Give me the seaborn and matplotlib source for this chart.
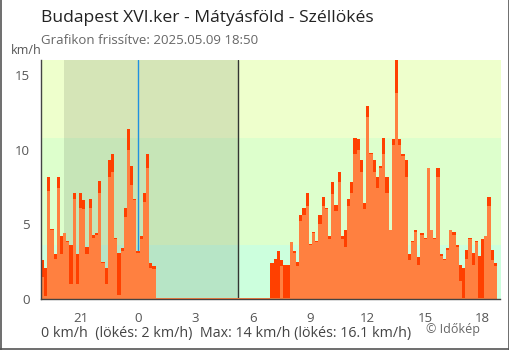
import numpy as np
import pandas as pd
import matplotlib
matplotlib.use("Agg")
import matplotlib.pyplot as plt
from matplotlib.lines import Line2D
import seaborn as sns

# ---------------- data ----------------
title = "Budapest XVI.ker - Mátyásföld - Széllökés"
subtitle = "Grafikon frissítve: 2025.05.09 18:50"
footer = "0 km/h  (lökés: 2 km/h)  Max: 14 km/h (lökés: 16.1 km/h)"
credit = "© Időkép"
unit = "km/h"

first_sample_hour = -5.0      # 19:00 previous day, hours relative to midnight
step_hours = 1 / 6            # 10-minute samples

wind_kmh = [
    1.5, 0.2, 7.2, 4.6, 2.7, 7.4, 3.0, 4.4, 3.8, 1.0, 6.7, 1.0,
    6.1, 6.0, 3.0, 6.1, 4.1, 4.3, 7.1, 2.4, 1.0, 8.2, 8.5, 4.0,
    0.3, 3.2, 5.5, 10.0, 7.6, 6.6, 3.1, 4.0, 6.5, 8.8, 2.1, 2.0,
    0.1, 0.1, 0.1, 0.1, 0.1, 0.1, 0.1, 0.1, 0.1, 0.1, 0.1, 0.1,
    0.1, 0.1, 0.1, 0.1, 0.1, 0.1, 0.1, 0.1, 0.1, 0.1, 0.1, 0.1,
    0.1, 0.1, 0.1, 0.1, 0.1, 0.1, 0.1, 0.1, 0.1, 0.1, 0.1, 0.1,
    0.1, 0.1, 0.1, 2.2, 0.1, 0.1, 3.8, 3.1, 2.2, 5.2, 5.6, 6.2,
    3.6, 4.4, 3.8, 5.0, 6.2, 6.0, 4.0, 7.0, 5.9, 7.8, 4.0, 3.5,
    6.2, 7.1, 9.7, 10.0, 8.5, 6.0, 12.2, 9.7, 8.5, 7.4, 8.8, 9.7,
    7.1, 4.6, 10.3, 13.8, 10.3, 9.6, 8.2, 2.6, 3.8, 4.5, 2.3, 4.3,
    4.0, 8.8, 4.6, 4.0, 8.2, 2.9, 2.6, 3.3, 4.6, 4.3, 3.5, 1.2,
    0.1, 2.7, 4.0, 2.3, 3.8, 0.1, 0.1, 4.2, 6.2, 2.6, 2.2,
]
gust_kmh = [
    2.6, 2.1, 8.2, 4.7, 3.0, 8.2, 4.2, 4.4, 3.9, 3.6, 7.1, 3.0,
    7.1, 6.6, 3.5, 6.7, 4.3, 4.4, 7.9, 2.5, 2.1, 9.3, 9.7, 4.1,
    3.1, 3.4, 6.1, 11.4, 8.9, 6.7, 3.2, 4.2, 7.1, 9.7, 2.4, 2.2,
    0.0, 0.0, 0.0, 0.0, 0.0, 0.0, 0.0, 0.0, 0.0, 0.0, 0.0, 0.0,
    0.0, 0.0, 0.0, 0.0, 0.0, 0.0, 0.0, 0.0, 0.0, 0.0, 0.0, 0.0,
    0.0, 0.0, 0.0, 0.0, 0.0, 0.0, 0.0, 0.0, 0.0, 0.0, 0.0, 0.0,
    2.4, 2.7, 3.2, 2.6, 2.3, 2.3, 3.8, 3.2, 2.5, 5.6, 6.1, 7.1,
    3.7, 4.5, 3.9, 5.6, 6.8, 6.1, 4.2, 7.8, 6.3, 8.5, 4.2, 4.6,
    6.7, 7.8, 10.8, 10.7, 9.3, 6.4, 12.9, 9.8, 9.3, 8.2, 8.9, 10.8,
    8.2, 4.6, 10.7, 16.1, 10.7, 9.7, 9.3, 3.0, 3.9, 4.6, 2.8, 4.4,
    4.1, 8.8, 4.6, 4.1, 8.8, 3.0, 2.7, 3.4, 4.6, 4.5, 3.6, 2.3,
    2.1, 3.3, 4.1, 3.1, 3.9, 2.9, 4.0, 4.2, 6.8, 3.3, 2.4,
]

x_ticks = [-3, 0, 3, 6, 9, 12, 15, 18]
x_tick_labels = ["21", "0", "3", "6", "9", "12", "15", "18"]
y_ticks = [0, 5, 10, 15]
x_range = (-5.07, 18.93)
y_range = (0, 16)
band_edges = [0, 3.6, 10.8, 16]
band_colors = ["#ccffdd", "#ddffcc", "#eeffcc"]
sunset_hour = -3.87
sunrise_hour = 5.22

# ---------------- figure ----------------
sns.set_theme(style="white")
plt.rcParams["font.family"] = ["Open Sans", "DejaVu Sans"]

W, H = 510, 350
fig = plt.figure(figsize=(W / 100, H / 100), dpi=100)
ax = fig.add_axes([41 / W, 51 / H, (500.5 - 41) / W, 239 / H])

n = len(wind_kmh)
hours = first_sample_hour + np.arange(n) * step_hours
df = pd.DataFrame({"hour": hours, "wind": wind_kmh, "gust": gust_kmh})
bin_range = (hours[0] - step_hours / 2, hours[-1] + step_hours / 2)

for lo, hi, c in zip(band_edges[:-1], band_edges[1:], band_colors):
    ax.axhspan(lo, hi, color=c, lw=0, zorder=0)
ax.axvspan(sunset_hour, sunrise_hour, color="black", alpha=0.1, lw=0, zorder=0.5)
ax.axvline(0, color="#2090e0", lw=1, zorder=1)
ax.axvline(sunrise_hour, color="#333333", lw=1, zorder=1)

sns.histplot(data=df, x="hour", weights="gust", bins=n, binrange=bin_range,
             element="step", fill=True, color="#ff4000", alpha=1, linewidth=0,
             ax=ax, zorder=2)
sns.histplot(data=df, x="hour", weights="wind", bins=n, binrange=bin_range,
             element="step", fill=True, color="#ff8040", alpha=1, linewidth=0,
             ax=ax, zorder=3)

ax.set_xlim(*x_range)
ax.set_ylim(*y_range)
ax.set_xlabel("")
ax.set_ylabel("")
ax.set_xticks(x_ticks, x_tick_labels)
ax.set_yticks(y_ticks)
ax.tick_params(axis="both", direction="inout", length=10, width=0.8,
               color="#444444", labelcolor="#555555", labelsize=9.5)
ax.tick_params(axis="x", pad=4)
ax.tick_params(axis="y", pad=3)
zero_tick = ax.xaxis.get_major_ticks()[x_ticks.index(0)]
zero_tick.tick1line.set_color("#2090e0")

for s in ["top", "right"]:
    ax.spines[s].set_visible(False)
for s in ["left", "bottom"]:
    ax.spines[s].set_color("#444444")
    ax.spines[s].set_linewidth(1)
    ax.spines[s].set_zorder(5)

def fy(py):
    return 1 - py / H

fig.text(41 / W, fy(18), title, fontsize=12.6, color="#222222", va="center", ha="left")
fig.text(41 / W, fy(41), subtitle, fontsize=9.5, color="#666666", va="center", ha="left")
fig.text(11 / W, fy(51), unit, fontsize=9, color="#555555", va="center", ha="left")
fig.text(41 / W, fy(334), footer, fontsize=10.3, color="#444444", va="center", ha="left")
fig.text(426 / W, fy(330), credit, fontsize=9, color="#666666", va="center", ha="left")

# frame around the figure (left, right, bottom)
for xs, ys in [([0.001, 0.001], [0, 1]), ([0.999, 0.999], [0, 1]), ([0, 1], [0.002, 0.002])]:
    fig.add_artist(Line2D(xs, ys, transform=fig.transFigure, color="#555555", lw=1.2))

fig.savefig("out.png", dpi=100)
